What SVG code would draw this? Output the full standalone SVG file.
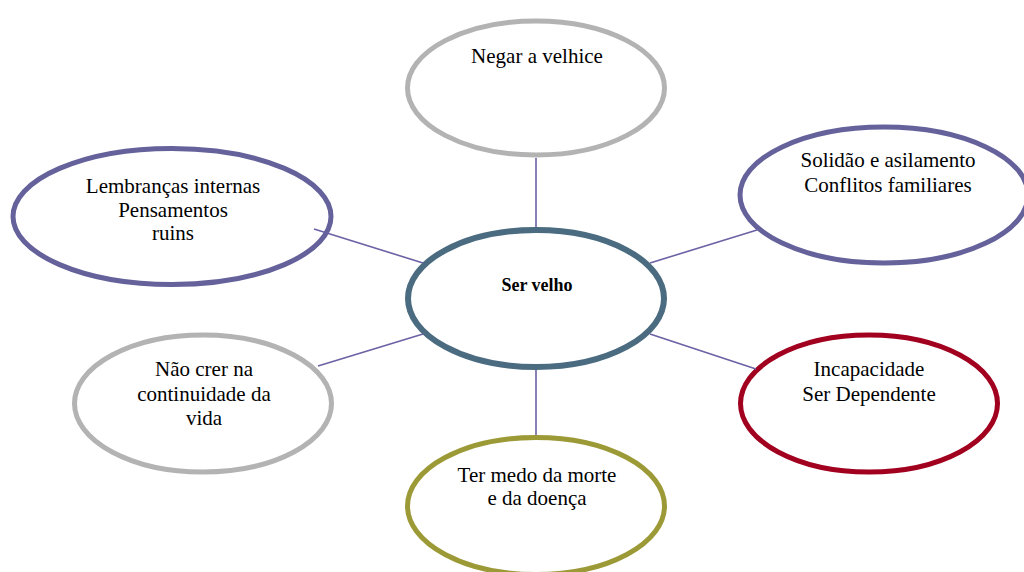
<svg xmlns="http://www.w3.org/2000/svg" width="1024" height="572" viewBox="0 0 1024 572">
<style>
.n{fill:#fff;stroke-width:5}
.gray{stroke:#b3b3b3}
.purple{stroke:#64619b}
.teal{stroke:#4a6b80;stroke-width:6}
.red{stroke:#a1001f}
.olive{stroke:#9c9a36}
text{font-family:'Liberation Serif','Tinos','Times New Roman','DejaVu Serif',serif;font-size:21px;fill:#000;text-anchor:middle}
.b{font-weight:bold;font-size:18px}
.c line{stroke:#6a62a4;stroke-width:1.6}
</style>
<rect width="1024" height="572" fill="#fff"/>
<g id="n-negar">
<ellipse class="n gray" cx="536" cy="88" rx="128.5" ry="67"/>
<text x="537" y="63">Negar a velhice</text>
</g>
<g id="n-solidao">
<ellipse class="n purple" cx="884" cy="195" rx="144" ry="68"/>
<text x="888" y="167">Solidão e asilamento</text>
<text x="888" y="192">Conflitos familiares</text>
</g>
<g id="n-lembrancas">
<ellipse class="n purple" cx="172" cy="216.5" rx="159" ry="68"/>
<text x="173" y="193">Lembranças internas</text>
<text x="173" y="217">Pensamentos</text>
<text x="173" y="240">ruins</text>
</g>
<g id="n-ser">
<ellipse class="n teal" cx="536" cy="298.5" rx="128" ry="68.5"/>
<text class="b" x="537" y="291">Ser velho</text>
</g>
<g id="n-naocrer">
<ellipse class="n gray" cx="203" cy="403.5" rx="128.5" ry="68.5"/>
<text x="204" y="376">Não crer na</text>
<text x="204" y="401">continuidade da</text>
<text x="204" y="425">vida</text>
</g>
<g id="n-incapacidade">
<ellipse class="n red" cx="869" cy="403.5" rx="128.5" ry="68.5"/>
<text x="869" y="376">Incapacidade</text>
<text x="869" y="401">Ser Dependente</text>
</g>
<g id="n-medo">
<ellipse class="n olive" cx="536" cy="506" rx="128.5" ry="68.5"/>
<text x="537" y="482">Ter medo da morte</text>
<text x="537" y="505">e da doença</text>
</g>
<g class="c" id="connectors">
<line x1="536" y1="158" x2="536" y2="227"/>
<line x1="536" y1="370" x2="536" y2="435"/>
<line x1="314" y1="229" x2="423" y2="263"/>
<line x1="650" y1="263" x2="757" y2="230"/>
<line x1="318" y1="366" x2="423" y2="334"/>
<line x1="650" y1="334" x2="756" y2="369"/>
</g>
</svg>
